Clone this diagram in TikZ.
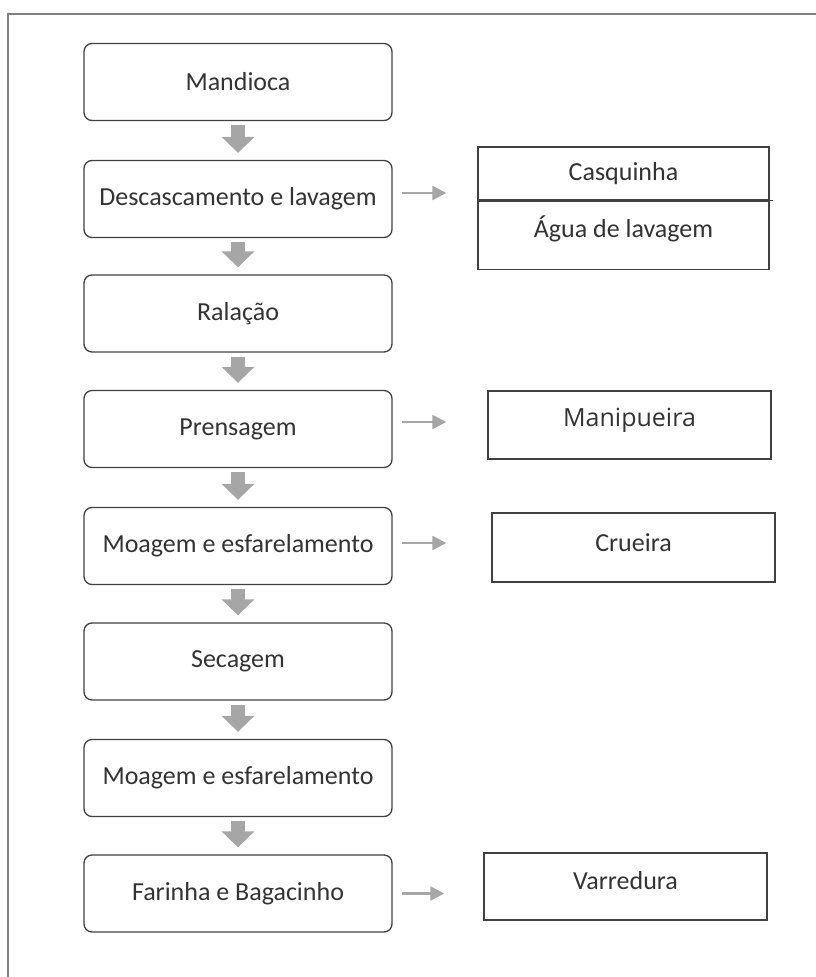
\documentclass[tikz,border=0pt]{standalone}
\usepackage{fontspec}
\setmainfont{Carlito}
\newfontfamily\manifont{Open Sans}
\usetikzlibrary{arrows.meta,positioning,calc}
\definecolor{boxline}{HTML}{404040}
\definecolor{textgray}{HTML}{333333}
\definecolor{arrowgray}{HTML}{A6A6A6}
\definecolor{framegray}{HTML}{808080}
\tikzset{x=1pt, y=-1pt, % One unit per pixel, y running down
        process/.style={ % Rounded boxes of the main chain
            draw=boxline, line width=1.3pt,
            rounded corners=8pt,
            minimum width=308pt, minimum height=77pt,
            inner sep=0pt, text=textgray,
            font=\fontsize{26}{31}\selectfont},
        waste/.style={ % Plain boxes on the right
            draw=boxline, line width=1.4pt,
            minimum width=283pt, inner sep=0pt},
        wastetext/.style={text=textgray,
            font=\fontsize{26}{31}\selectfont},
        down/.style={ % Thick grey arrows between steps
            draw=arrowgray, line width=14pt,
            -{Triangle[width=32pt,length=16pt]},
            shorten <=4pt, shorten >=7pt},
        side/.style={ % Thin grey arrows to the by-products
            draw=arrowgray, line width=2.5pt,
            -{Triangle[width=14pt,length=14pt]},
            shorten <=9pt}
        }
\begin{document}
\begin{tikzpicture}
    \useasboundingbox (0,0) rectangle (816,977);
    \draw[framegray, line width=1.2pt] (8,977) -- (8,14) -- (816,14);

    % main chain
    \node[process] (m1) at (238,82)    {Mandioca};
    \node[process] (m2) at (238,199)   {Descascamento e lavagem};
    \node[process] (m3) at (238,313.5) {Ralação};
    \node[process] (m4) at (238,429)   {Prensagem};
    \node[process] (m5) at (238,546)   {Moagem e esfarelamento};
    \node[process] (m6) at (238,661.5) {Secagem};
    \node[process] (m7) at (238,778)   {Moagem e esfarelamento};
    \node[process] (m8) at (238,893.5) {Farinha e Bagacinho};

    % by-products
    \node[waste, minimum width=291pt, minimum height=53pt] (casq) at (623.5,173.5) {};
    \node[waste, minimum width=291pt, minimum height=68pt,
          below=0pt of casq] (agua) {};
    \node[wastetext] (casqt) at (casq) {Casquinha};
    \node[wastetext] (aguat) at ([yshift=7pt]agua) {Água de lavagem};
    \draw[boxline, line width=1.4pt] (casq.south west) -- ([xshift=3pt]casq.south east);

    \node[waste, minimum height=68pt] (mani) at (629.5,425) {};
    \node[text=textgray, font=\manifont\fontsize{25}{30}\selectfont] (manit)
        at ([yshift=5pt]mani) {Manipueira};
    \node[waste, minimum height=69pt] (crue) at (633.5,547.5) {};
    \node[wastetext] (cruet) at ([yshift=5pt]crue) {Crueira};
    \node[waste, minimum height=67pt] (varr) at (625.5,886.5) {};
    \node[wastetext] (varrt) at ([yshift=6pt]varr) {Varredura};

    \draw[down] (m1) -- (m2);
    \draw[down] (m2) -- (m3);
    \draw[down] (m3) -- (m4);
    \draw[down] (m4) -- (m5);
    \draw[down] (m5) -- (m6);
    \draw[down] (m6) -- (m7);
    \draw[down] (m7) -- (m8);

    \draw[side, shorten >=31pt] ([yshift=6pt]m2.east) -- ([yshift=6pt]m2.east -| casq.west);
    \draw[side, shorten >=41pt] ([yshift=7pt]m4.east) -- ([yshift=7pt]m4.east -| mani.west);
    \draw[side, shorten >=45pt] ([yshift=3pt]m5.east) -- ([yshift=3pt]m5.east -| crue.west);
    \draw[side, shorten >=39pt] (m8.east) -- (m8.east -| varr.west);
\end{tikzpicture}
\end{document}
